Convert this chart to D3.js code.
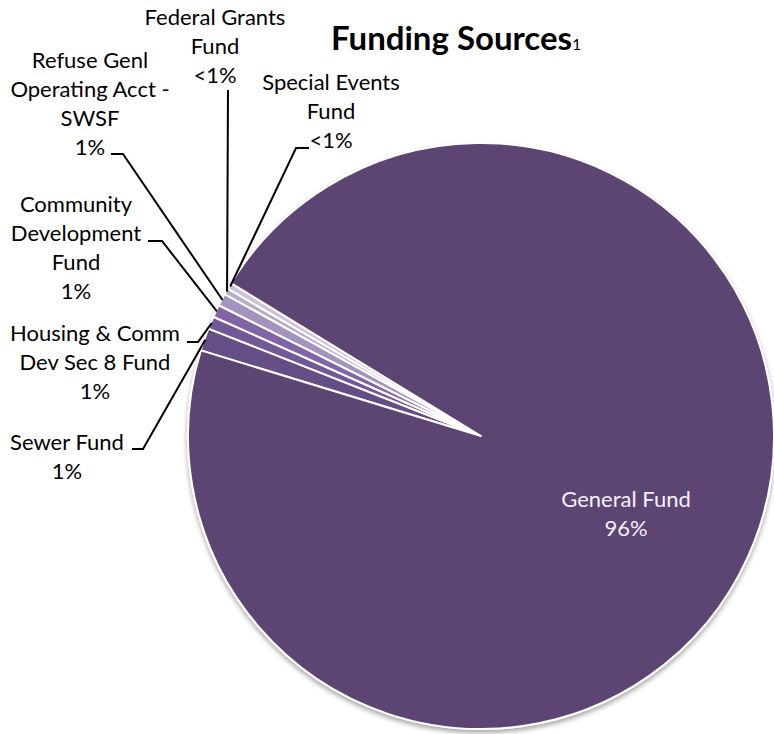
<!DOCTYPE html>
<html>
<head>
<meta charset="utf-8">
<script src="https://cdn.jsdelivr.net/npm/d3@7"></script>
<style>
  html, body { margin: 0; padding: 0; background: #ffffff; }
  svg { display: block; }
  text { font-family: Lato, "Open Sans", sans-serif; }
</style>
</head>
<body>
<script>
// Funding sources, share of total (percent), in drawing order clockwise
const categories = [
  "Sewer Fund",
  "Housing & Comm Dev Sec 8 Fund",
  "Community Development Fund",
  "Refuse Genl Operating Acct - SWSF",
  "Federal Grants Fund",
  "Special Events Fund",
  "General Fund"
];
const shares = [1.25, 0.70, 0.69, 0.69, 0.33, 0.35, 95.99];

// How each category name wraps in its label
const labelLines = [
  ["Sewer Fund"],
  ["Housing & Comm", "Dev Sec 8 Fund"],
  ["Community", "Development", "Fund"],
  ["Refuse Genl", "Operating Acct -", "SWSF"],
  ["Federal Grants", "Fund"],
  ["Special Events", "Fund"],
  ["General Fund"]
];

const sliceColors = ["#654d86", "#725996", "#8164a6", "#a293bf", "#b6abcb", "#cbc2db", "#5c4572"];

const W = 774, H = 734;
const cx = 481, cy = 436, R = 293;
const startDeg = 287;
const lineH = 29;

// Outside label placement: centre x, first baseline, leader start and elbow
const labelLayout = [
  { x: 67,  y: 450, lx: 132, ly: 449, ex: 143 },
  { x: 95,  y: 341, lx: 187, ly: 342, ex: 198 },
  { x: 76,  y: 212, lx: 148, ly: 241, ex: 162 },
  { x: 90,  y: 68,  lx: 111, ly: 154, ex: 123 },
  { x: 215, y: 25,  lx: 228, ly: 90,  ex: 228 },
  { x: 331, y: 90,  lx: 309, ly: 148, ex: 296 },
  { x: 626, y: 507 }
];

const pctText = v => v < 0.5 ? "<1%" : Math.round(v) + "%";

const svg = d3.select("body").append("svg")
  .attr("width", W).attr("height", H);

const defs = svg.append("defs");
const shadow = defs.append("filter").attr("id", "pieShadow")
  .attr("x", "-10%").attr("y", "-10%").attr("width", "120%").attr("height", "120%");
shadow.append("feDropShadow")
  .attr("dx", 0).attr("dy", 3).attr("stdDeviation", 2.5)
  .attr("flood-color", "#000").attr("flood-opacity", 0.35);

const data = categories.map((c, i) => ({ name: c, value: shares[i], i }));

const pie = d3.pie()
  .sort(null)
  .value(d => d.value)
  .startAngle(startDeg * Math.PI / 180)
  .endAngle(startDeg * Math.PI / 180 + 2 * Math.PI);

const arcs = pie(data);
const arc = d3.arc().innerRadius(0).outerRadius(R);
const edgeArc = d3.arc().innerRadius(R - 1).outerRadius(R - 1);

const g = svg.append("g").attr("transform", `translate(${cx},${cy})`);

// Pie body with a soft drop shadow
g.append("g").attr("filter", "url(#pieShadow)")
  .selectAll("path")
  .data(arcs)
  .join("path")
  .attr("d", arc)
  .attr("fill", d => sliceColors[d.data.i])
  .attr("stroke", "#ffffff")
  .attr("stroke-width", 2)
  .attr("stroke-linejoin", "round");

// Leader lines for the small slices
const small = arcs.filter(d => d.data.i < 6);
svg.append("g")
  .selectAll("polyline")
  .data(small)
  .join("polyline")
  .attr("fill", "none")
  .attr("stroke", "#000")
  .attr("stroke-width", 2)
  .attr("points", d => {
    const L = labelLayout[d.data.i];
    const [px, py] = edgeArc.centroid(d);
    return [[L.lx, L.ly], [L.ex, L.ly], [cx + px, cy + py]].map(p => p.join(",")).join(" ");
  });

// Labels: category name lines followed by the share
const labels = svg.append("g").selectAll("text")
  .data(arcs)
  .join("text")
  .attr("text-anchor", "middle")
  .attr("font-size", 22)
  .attr("fill", d => d.data.i === 6 ? "#f4f2f7" : "#000000");

labels.each(function(d) {
  const L = labelLayout[d.data.i];
  const lines = labelLines[d.data.i].concat([pctText(d.data.value)]);
  const t = d3.select(this);
  lines.forEach((s, k) => {
    t.append("tspan").attr("x", L.x).attr("y", L.y + k * lineH).text(s);
  });
});

// Title
const title = svg.append("text")
  .attr("x", 331).attr("y", 50)
  .attr("font-size", 33).attr("font-weight", 700).attr("fill", "#000");
title.append("tspan").text("Funding Sources");
title.append("tspan").attr("font-size", 16).attr("font-weight", 400).text("1");
</script>
</body>
</html>
